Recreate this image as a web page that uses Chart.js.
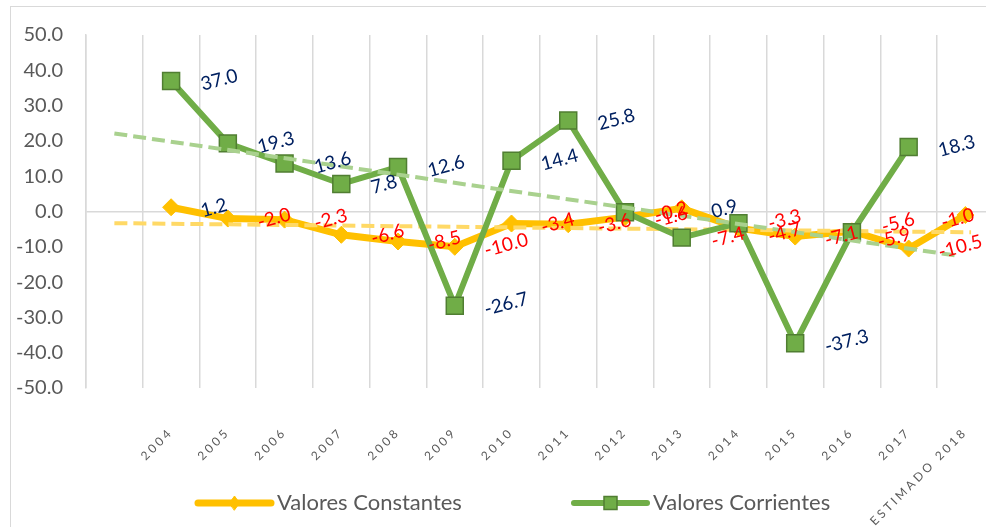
<!DOCTYPE html>
<html><head><meta charset="utf-8">
<script src="https://cdn.jsdelivr.net/npm/chart.js@4.4.0/dist/chart.umd.min.js"></script>
<style>
html,body{margin:0;padding:0;background:#fff;overflow:hidden;}
#frame{position:absolute;left:10px;top:6px;width:1100px;height:700px;border:1px solid #d9d9d9;box-sizing:border-box;}
#wrap{position:absolute;left:0;top:0;width:1013px;height:527px;}
#c{width:1013px;height:527px;display:block;}
</style></head><body>
<div id="frame"></div>
<div id="wrap"><canvas id="c" width="1013" height="527"></canvas></div>
<script>
const categories = ['', '2004', '2005', '2006', '2007', '2008', '2009', '2010', '2011', '2012', '2013', '2014', '2015', '2016', '2017', 'ESTIMADO 2018'];
const valoresConstantes = [null, 1.2, -2.0, -2.3, -6.6, -8.5, -10.0, -3.4, -3.6, -1.6, 0.9, -4.7, -7.1, -5.6, -10.5, -1.0];
const valoresCorrientes = [null, 37.0, 19.3, 13.6, 7.8, 12.6, -26.7, 14.4, 25.8, -0.2, -7.4, -3.3, -37.3, -5.9, 18.3, null];
const trendCorrientesX = [0, 14.85];
const trendCorrientesY = [22.1, -12.5];
const trendConstantesX = [0, 15.1];
const trendConstantesY = [-3.3, -5.9];
const yTicks = [-50, -40, -30, -20, -10, 0, 10, 20, 30, 40, 50];
const seriesNames = ['Valores Constantes', 'Valores Corrientes'];

const ORANGE = '#FFC000', GREEN = '#70AD47', GREEN_DARK = '#507E32';
const NAVY = '#002060', RED = '#FF0000', GREY = '#595959', GRID = '#D9D9D9';

// label placement tweaks (pixel nudges for crowded labels), keyed by series and category index
const labelNudges = {
  corrientes: {11: [0, -3], 13: [-4, 6]},
  constantes: {11: [0, 5], 13: [0, -8], 15: [-54, 4]}
};

const toXY = (xs, ys) => xs.map((x, i) => ({x: x, y: ys[i]}));

const labelPlugin = {
  id: 'valueLabels',
  afterDatasetsDraw(chart) {
    const ctx = chart.ctx;
    chart.data.datasets.forEach((ds, di) => {
      if (!ds.showValues) return;
      const meta = chart.getDatasetMeta(di);
      const nudges = labelNudges[ds.nudgeKey] || {};
      meta.data.forEach((pt, i) => {
        const v = ds.data[i];
        if (v === null || v === undefined) return;
        const n = nudges[i] || [0, 0];
        ctx.save();
        ctx.translate(pt.x + 30 + n[0], pt.y + 4 + n[1]);
        ctx.rotate(-15 * Math.PI / 180);
        ctx.font = '19px Lato';
        ctx.textAlign = 'left';
        ctx.textBaseline = 'middle';
        ctx.fillStyle = (v < 0 && v > -20) ? RED : NAVY;
        ctx.fillText(v.toFixed(1), 0, 0);
        ctx.restore();
      });
    });
  }
};

const spacingPlugin = {
  id: 'tickSpacing',
  afterLayout(chart) {
    const s = chart.scales.x;
    if (s && !s._spaced) {
      const orig = s.drawLabels.bind(s);
      s.drawLabels = function(area) {
        const c = this.ctx;
        const prev = c.letterSpacing;
        c.letterSpacing = '3px';
        orig(area);
        c.letterSpacing = prev || '0px';
      };
      s._spaced = true;
    }
  }
};

const legendPlugin = {
  id: 'customLegend',
  afterDraw(chart) {
    const ctx = chart.ctx;
    const y = 503;
    const items = [
      {x0: 198, x1: 271, ds: chart.data.datasets[2]},
      {x0: 574, x1: 647, ds: chart.data.datasets[0]}
    ];
    items.forEach(it => {
      const ds = it.ds;
      ctx.save();
      ctx.strokeStyle = ds.borderColor;
      ctx.lineWidth = ds.borderWidth;
      ctx.lineCap = 'round';
      ctx.beginPath(); ctx.moveTo(it.x0, y); ctx.lineTo(it.x1, y); ctx.stroke();
      const cx = (it.x0 + it.x1) / 2;
      ctx.fillStyle = ds.pointBackgroundColor;
      ctx.strokeStyle = ds.pointBorderColor;
      ctx.lineWidth = ds.pointBorderWidth;
      ctx.beginPath();
      if (ds.pointStyle === 'rect') { ctx.rect(cx - 6.5, y - 6.5, 13, 13); }
      else { ctx.moveTo(cx - 5, y); ctx.lineTo(cx, y - 7); ctx.lineTo(cx + 5, y); ctx.lineTo(cx, y + 7); ctx.closePath(); }
      ctx.fill(); ctx.stroke();
      ctx.font = '22px Lato';
      ctx.fillStyle = GREY;
      ctx.textAlign = 'left';
      ctx.textBaseline = 'middle';
      ctx.fillText(ds.label, it.x1 + 6, y);
      ctx.restore();
    });
  }
};

new Chart(document.getElementById('c'), {
  type: 'line',
  data: {
    labels: categories,
    datasets: [
      {
        label: seriesNames[1], data: valoresCorrientes, showValues: true, nudgeKey: 'corrientes', order: 1,
        borderColor: GREEN, borderWidth: 6, pointStyle: 'rect', pointRadius: 12,
        pointBackgroundColor: GREEN, pointBorderColor: GREEN_DARK, pointBorderWidth: 1.5,
        spanGaps: false, tension: 0
      },
      {
        label: 'trend corrientes', data: toXY(trendCorrientesX, trendCorrientesY), xAxisID: 'xt', order: 0,
        borderColor: '#A9D18E', borderWidth: 4, borderDash: [13, 6], pointRadius: 0, tension: 0
      },
      {
        label: seriesNames[0], data: valoresConstantes, showValues: true, nudgeKey: 'constantes', order: 3,
        borderColor: ORANGE, borderWidth: 7, pointStyle: 'rectRot', pointRadius: 8.5,
        pointBackgroundColor: ORANGE, pointBorderColor: ORANGE, pointBorderWidth: 1,
        tension: 0
      },
      {
        label: 'trend constantes', data: toXY(trendConstantesX, trendConstantesY), xAxisID: 'xt', order: 2,
        borderColor: '#FFD966', borderWidth: 4, borderDash: [13, 6], pointRadius: 0, tension: 0
      }
    ]
  },
  options: {
    responsive: false,
    animation: false,
    devicePixelRatio: 1,
    layout: {padding: {top: 35, right: 1, left: 0, bottom: 0}},
    plugins: {legend: {display: false}, tooltip: {enabled: false}},
    events: [],
    scales: {
      x: {
        type: 'category',
        offset: true,
        grid: {offset: true, color: GRID, lineWidth: 1.5, drawTicks: false},
        border: {display: false},
        ticks: {
          autoSkip: false, minRotation: 45, maxRotation: 45, padding: 37,
          color: GREY, font: {family: 'Lato', size: 12}
        },
        afterFit(scale) { scale.height = 139; }
      },
      xt: {
        type: 'linear', display: false, min: -0.5, max: 15.5
      },
      y: {
        min: -50, max: 50,
        grid: {color: ctx => (ctx.tick && ctx.tick.value === 0) ? GRID : 'rgba(0,0,0,0)', lineWidth: 1.5, drawTicks: false},
        border: {display: true, color: GRID, width: 1.5},
        afterBuildTicks(scale) { scale.ticks = yTicks.map(v => ({value: v})); },
        ticks: {
          padding: 23, color: GREY, font: {family: 'Lato', size: 20},
          callback: v => Number(v).toFixed(1)
        },
        afterFit(scale) { scale.width = 86; }
      }
    }
  },
  plugins: [labelPlugin, spacingPlugin, legendPlugin]
});
</script>
</body></html>
